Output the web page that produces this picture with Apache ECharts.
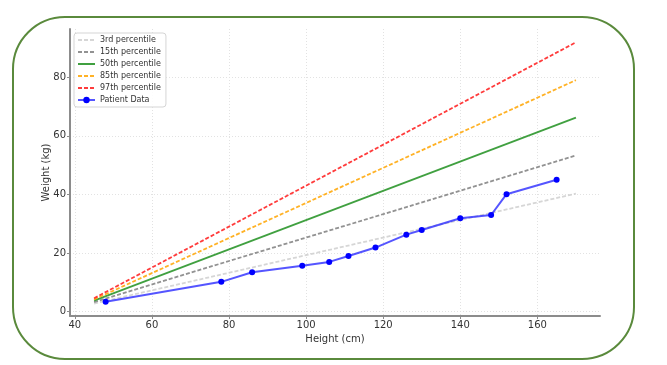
<!DOCTYPE html>
<html>
<head>
<meta charset="utf-8">
<script src="https://cdn.jsdelivr.net/npm/echarts@6/dist/echarts.min.js"></script>
<style>
html,body{margin:0;padding:0;background:#fff;}
#c{width:667px;height:365px;}
</style>
</head>
<body>
<div id="c"></div>
<script>
// Percentile reference lines (endpoints)
var refHeights = [45, 170];
var p3  = [2.8, 40.3];
var p15 = [3.3, 53.3];
var p50 = [3.8, 66.2];
var p85 = [4.2, 79.0];
var p97 = [4.6, 91.9];

// Patient measurements
var patientHeights = [48, 78, 86, 99, 106, 111, 118, 126, 130, 140, 148, 152, 165];
var patientWeights = [3.4, 10.2, 13.5, 15.7, 17.0, 19.0, 21.9, 26.3, 27.9, 31.9, 33.0, 40.1, 45.0];

var xTicks = [40, 60, 80, 100, 120, 140, 160];
var yTicks = [0, 20, 40, 60, 80];

function pairs(xs, ys) { return xs.map(function (x, i) { return [x, ys[i]]; }); }

var font = 'DejaVu Sans';
function refSeries(name, vals, color, dashed) {
  return {
    name: name, type: 'line', data: pairs(refHeights, vals),
    symbol: 'none', silent: true, animation: false,
    itemStyle: { color: color },
    lineStyle: { color: color, width: 1.8, type: dashed ? [4, 2] : 'solid', opacity: 0.85 }
  };
}
var hidden = { opacity: 0 };

var chart = echarts.init(document.getElementById('c'), null, { renderer: 'canvas' });
chart.setOption({
  animation: false,
  backgroundColor: '#fff',
  textStyle: { fontFamily: font },
  grid: { left: 70, top: 29, right: 67, bottom: 49, containLabel: false, outerBoundsMode: 'none' },
  xAxis: {
    type: 'value', min: 38.75, max: 176.25,
    name: 'Height (cm)', nameLocation: 'middle', nameGap: 16,
    nameTextStyle: { fontSize: 10, color: '#333', fontFamily: font },
    axisLine: { show: true, onZero: false, lineStyle: { color: '#8c8c8c', width: 2 } },
    axisTick: { show: true, length: 3, customValues: xTicks, lineStyle: { color: '#8c8c8c' } },
    axisLabel: { customValues: xTicks, fontSize: 10, color: '#333', margin: 4, fontFamily: font },
    splitLine: { show: true, lineStyle: { color: '#e2e2e2', type: [1, 2], width: 1 } }
  },
  yAxis: {
    type: 'value', min: -1.45, max: 96.45,
    name: 'Weight (kg)', nameLocation: 'middle', nameGap: 19, nameMoveOverlap: false,
    nameTextStyle: { fontSize: 10, color: '#333', fontFamily: font },
    axisLine: { show: true, onZero: false, lineStyle: { color: '#8c8c8c', width: 2 } },
    axisTick: { show: true, length: 3, customValues: yTicks, lineStyle: { color: '#8c8c8c' } },
    axisLabel: { customValues: yTicks, fontSize: 10, color: '#333', margin: 4, fontFamily: font },
    splitLine: { show: true, lineStyle: { color: '#e2e2e2', type: [1, 2], width: 1 } }
  },
  legend: {
    orient: 'vertical', left: 74, top: 33,
    padding: [3, 5, 3, 3], itemGap: 4, itemWidth: 17, itemHeight: 8,
    backgroundColor: 'rgba(255,255,255,0.9)', borderColor: '#d5d5d5', borderWidth: 1, borderRadius: 3,
    textStyle: { fontSize: 8, color: '#333', fontFamily: font, lineHeight: 8 },
    data: [
      { name: '3rd percentile', itemStyle: hidden },
      { name: '15th percentile', itemStyle: hidden },
      { name: '50th percentile', itemStyle: hidden },
      { name: '85th percentile', itemStyle: hidden },
      { name: '97th percentile', itemStyle: hidden },
      'Patient Data'
    ]
  },
  graphic: [{
    type: 'rect', silent: true, z: 100,
    shape: { x: 13, y: 17, width: 621, height: 342, r: 52 },
    style: { fill: 'none', stroke: '#5a8a3c', lineWidth: 2 }
  }],
  series: [
    refSeries('3rd percentile', p3, '#cfcfcf', true),
    refSeries('15th percentile', p15, '#7f7f7f', true),
    refSeries('50th percentile', p50, '#1f8f1f', false),
    refSeries('85th percentile', p85, '#ffa500', true),
    refSeries('97th percentile', p97, '#ff1a1a', true),
    {
      name: 'Patient Data', type: 'line', data: pairs(patientHeights, patientWeights),
      symbol: 'circle', symbolSize: 6, z: 5,
      itemStyle: { color: '#0000ff' },
      lineStyle: { color: '#2a2aff', width: 2, opacity: 0.8 }
    }
  ]
});
</script>
</body>
</html>
